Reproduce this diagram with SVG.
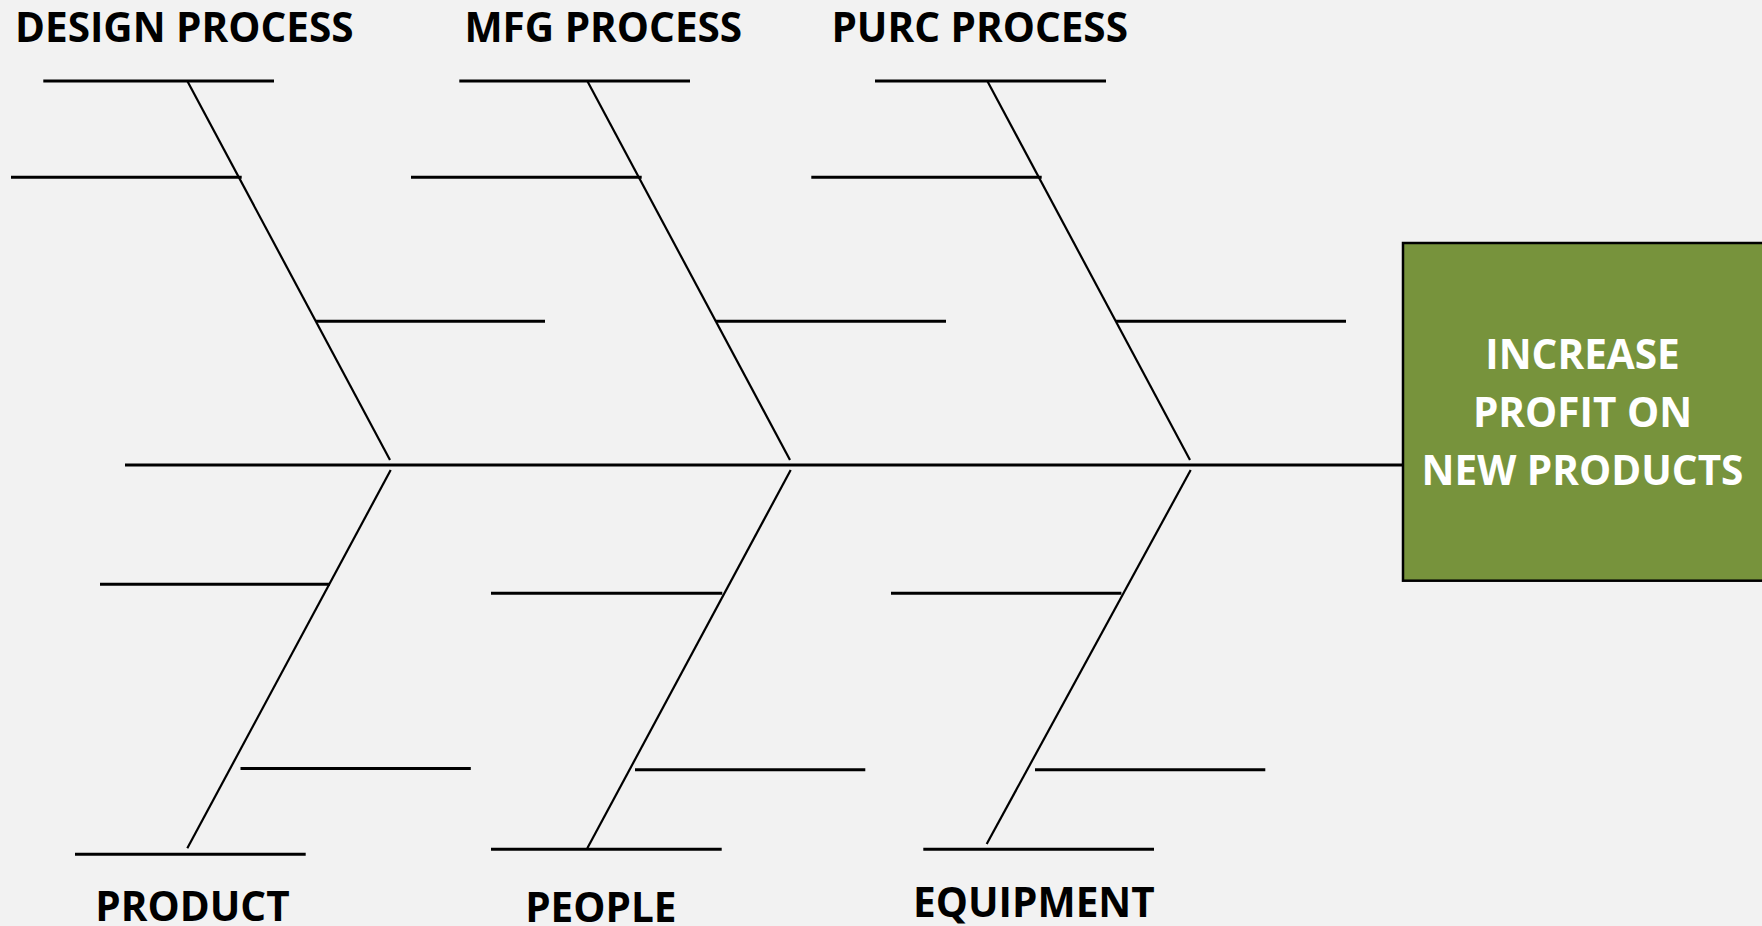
<svg xmlns="http://www.w3.org/2000/svg" width="1762" height="926" viewBox="0 0 1762 926">
  <style>
    .bg { fill: #f2f2f2; }
    .bar { stroke: #000; stroke-width: 3; fill: none; }
    .bone { stroke: #000; stroke-width: 2.2; fill: none; }
    .cat { font-family: "Open Sans", "Liberation Sans", sans-serif; font-weight: 700; font-size: 40.5px; fill: #000; text-anchor: middle; }
    .head-box { fill: #77933c; stroke: #000; stroke-width: 2.5; }
    .head-text { font-family: "Open Sans", "Liberation Sans", sans-serif; font-weight: 700; font-size: 40.5px; fill: #fff; text-anchor: middle; }
  </style>

  <rect class="bg" x="0" y="0" width="1762" height="926"/>

  <!-- spine, ribs and sub-causes -->
  <g id="connectors">
    <line class="bar" x1="125" y1="465" x2="1403" y2="465"/>

    <!-- upper ribs -->
    <line class="bone" x1="187.3" y1="81" x2="390" y2="460"/>
    <line class="bone" x1="587.3" y1="81" x2="790" y2="460"/>
    <line class="bone" x1="987.3" y1="81" x2="1190" y2="460"/>

    <!-- lower ribs -->
    <line class="bone" x1="390.7" y1="470" x2="187.3" y2="848.3"/>
    <line class="bone" x1="790.7" y1="470" x2="587.3" y2="848.3"/>
    <line class="bone" x1="1190.7" y1="470" x2="986.7" y2="844"/>
  </g>

  <g id="design-process">
    <text class="cat" x="184.3" y="41.7">DESIGN PROCESS</text>
    <line class="bar" x1="43.3" y1="81" x2="274" y2="81"/>
    <line class="bar" x1="11" y1="177.3" x2="241.7" y2="177.3"/>
    <line class="bar" x1="316" y1="321.3" x2="545" y2="321.3"/>
  </g>

  <g id="mfg-process">
    <text class="cat" x="603.3" y="41.7">MFG PROCESS</text>
    <line class="bar" x1="459.3" y1="81" x2="690" y2="81"/>
    <line class="bar" x1="411" y1="177.3" x2="641.7" y2="177.3"/>
    <line class="bar" x1="716" y1="321.3" x2="946" y2="321.3"/>
  </g>

  <g id="purc-process">
    <text class="cat" x="979.7" y="41.7">PURC PROCESS</text>
    <line class="bar" x1="875" y1="81" x2="1106" y2="81"/>
    <line class="bar" x1="811.3" y1="177.3" x2="1041.7" y2="177.3"/>
    <line class="bar" x1="1116" y1="321.3" x2="1346" y2="321.3"/>
  </g>

  <g id="product">
    <line class="bar" x1="100" y1="584.3" x2="330" y2="584.3"/>
    <line class="bar" x1="240.5" y1="768.6" x2="470.8" y2="768.6"/>
    <line class="bar" x1="75" y1="854.3" x2="305.7" y2="854.3"/>
    <text class="cat" x="192.5" y="920.7">PRODUCT</text>
  </g>

  <g id="people">
    <line class="bar" x1="491" y1="593.3" x2="722.3" y2="593.3"/>
    <line class="bar" x1="635" y1="769.7" x2="865.3" y2="769.7"/>
    <line class="bar" x1="491" y1="849.3" x2="721.7" y2="849.3"/>
    <text class="cat" x="600.8" y="921.7">PEOPLE</text>
  </g>

  <g id="equipment">
    <line class="bar" x1="891" y1="593.3" x2="1121.4" y2="593.3"/>
    <line class="bar" x1="1035" y1="769.7" x2="1265.3" y2="769.7"/>
    <line class="bar" x1="923.3" y1="849.3" x2="1154" y2="849.3"/>
    <text class="cat" x="1033.9" y="917.3">EQUIPMENT</text>
  </g>

  <g id="effect">
    <rect class="head-box" x="1403" y="243" width="400" height="337.7"/>
    <text class="head-text" x="1582.5" y="369">INCREASE</text>
    <text class="head-text" x="1582.5" y="427">PROFIT ON</text>
    <text class="head-text" x="1582.5" y="485">NEW PRODUCTS</text>
  </g>
</svg>
